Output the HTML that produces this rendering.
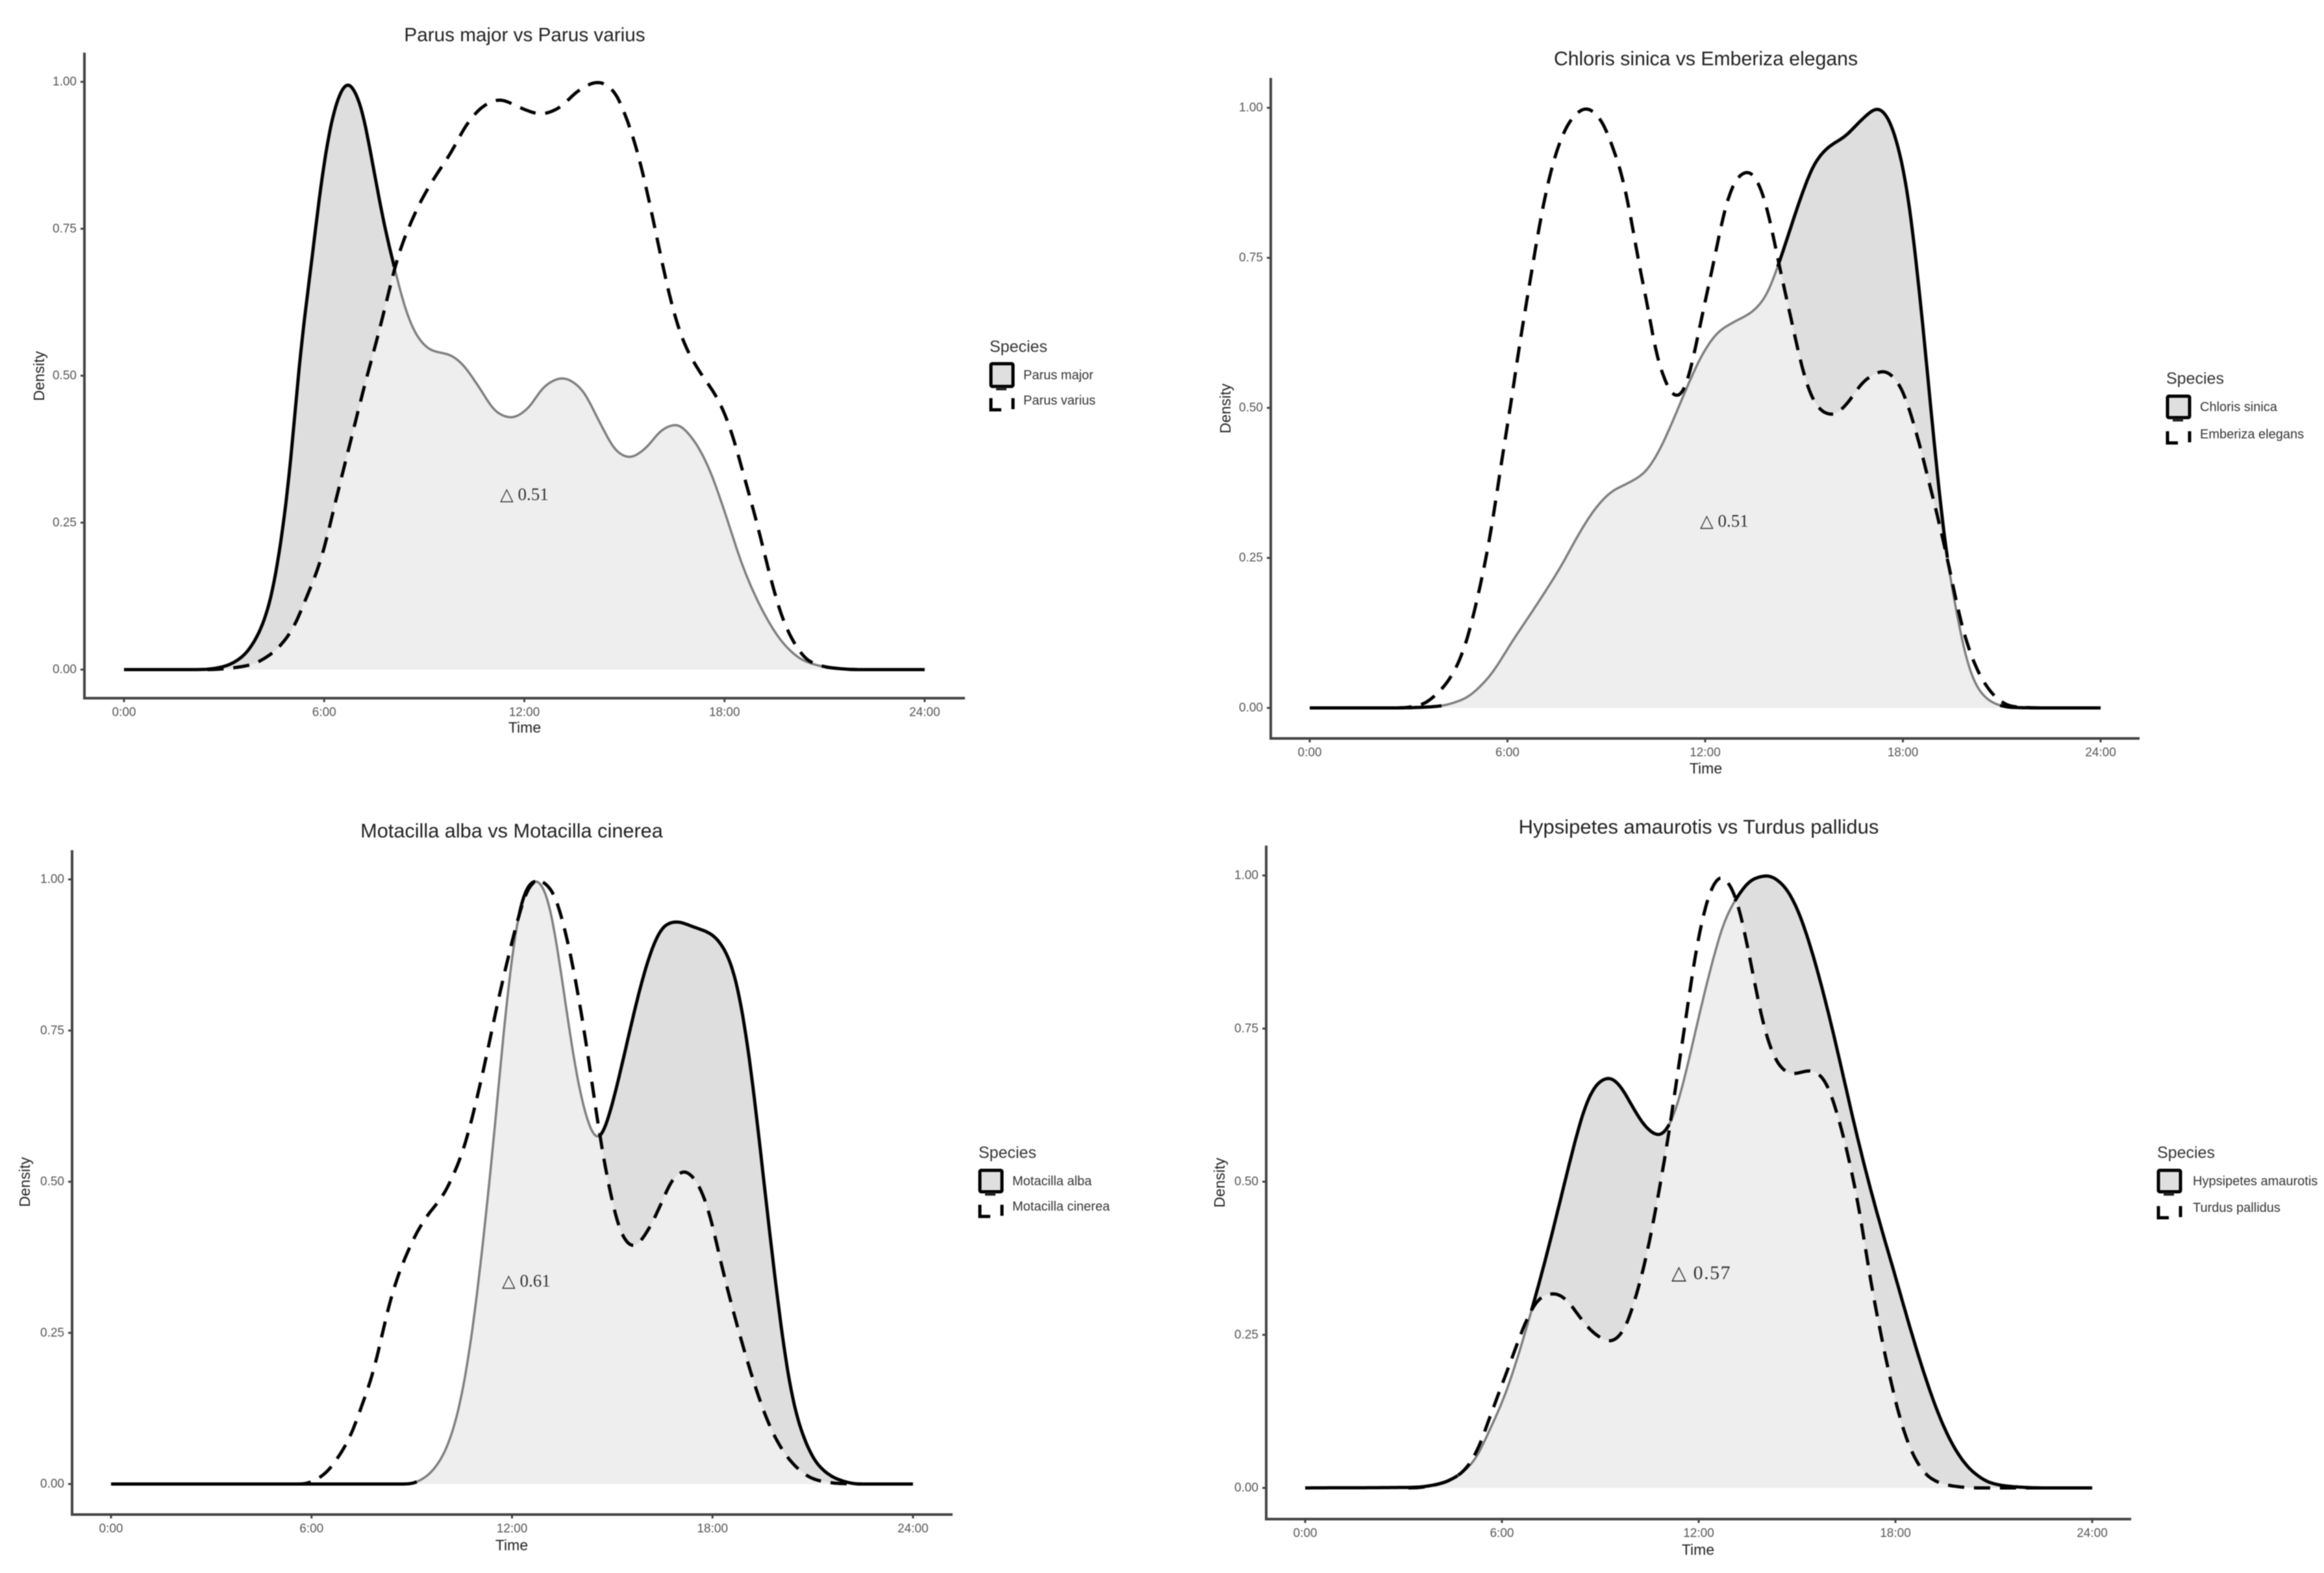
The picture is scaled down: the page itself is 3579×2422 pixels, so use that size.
<!DOCTYPE html>
<html lang="en">
<head>
<meta charset="utf-8">
<title>Species activity overlap density plots</title>
<style>
html,body{margin:0;padding:0;background:#fff;}
body{width:3579px;height:2422px;overflow:hidden;}
svg{display:block;filter:blur(0.9px);font-family:"Liberation Sans",Arial,sans-serif;}
.title{fill:#222;text-anchor:middle;dominant-baseline:central;}
.axt{font-size:23px;fill:#222;text-anchor:middle;dominant-baseline:central;}
.tick{font-size:19px;fill:#555;dominant-baseline:central;}
.lgt{font-size:25px;fill:#333;dominant-baseline:central;}
.lgl{font-size:20px;fill:#333;dominant-baseline:central;}
.delta{font-family:"Liberation Serif","DejaVu Serif",serif;font-size:27px;fill:#333;dominant-baseline:central;}
</style>
</head>
<body>
<svg id="figure" width="3579" height="2422" viewBox="0 0 3579 2422" xmlns="http://www.w3.org/2000/svg">
  <rect x="0" y="0" width="3579" height="2422" fill="#fff"/>

  <g id="panel-1">
    <g id="marks-1"></g>
    <text class="title" style="font-size:29.7px" x="808" y="54">Parus major vs Parus varius</text>
    <text class="axt" x="808" y="1120">Time</text>
    <text class="axt" transform="translate(60 579) rotate(-90)">Density</text>
    <text class="delta" x="770" y="761">△ 0.51</text>
    <text class="lgt" x="1524" y="534">Species</text>
    <g>
      <rect x="1526" y="560" width="34" height="35" rx="2" fill="#dfdfdf" stroke="#000" stroke-width="5"/>
      <rect x="1534" y="596" width="16" height="5" fill="#222"/>
    </g>
    <path d="M1526 613V631H1542M1560 613V630" fill="none" stroke="#000" stroke-width="5"/>
    <text class="lgl" x="1576" y="578">Parus major</text>
    <text class="lgl" x="1576" y="617">Parus varius</text>
  </g>

  <g id="panel-2">
    <g id="marks-2"></g>
    <text class="title" style="font-size:30.2px" x="2627" y="91">Chloris sinica vs Emberiza elegans</text>
    <text class="axt" x="2627" y="1183">Time</text>
    <text class="axt" transform="translate(1887 629) rotate(-90)">Density</text>
    <text class="delta" x="2618" y="802">△ 0.51</text>
    <text class="lgt" x="3336" y="583">Species</text>
    <g>
      <rect x="3338" y="610" width="34" height="33" rx="2" fill="#dfdfdf" stroke="#000" stroke-width="5"/>
      <rect x="3346" y="644" width="16" height="5" fill="#222"/>
    </g>
    <path d="M3338 664V682H3354M3372 664V681" fill="none" stroke="#000" stroke-width="5"/>
    <text class="lgl" x="3388" y="627">Chloris sinica</text>
    <text class="lgl" x="3388" y="669">Emberiza elegans</text>
  </g>

  <g id="panel-3">
    <g id="marks-3"></g>
    <text class="title" style="font-size:30.7px" x="788" y="1279">Motacilla alba vs Motacilla cinerea</text>
    <text class="axt" x="788" y="2379">Time</text>
    <text class="axt" transform="translate(38 1820) rotate(-90)">Density</text>
    <text class="delta" x="773" y="1972">△ 0.61</text>
    <text class="lgt" x="1507" y="1775">Species</text>
    <g>
      <rect x="1509" y="1802" width="34" height="33" rx="2" fill="#dfdfdf" stroke="#000" stroke-width="5"/>
      <rect x="1517" y="1836" width="16" height="5" fill="#222"/>
    </g>
    <path d="M1509 1855V1873H1525M1543 1855V1872" fill="none" stroke="#000" stroke-width="5"/>
    <text class="lgl" x="1559" y="1819">Motacilla alba</text>
    <text class="lgl" x="1559" y="1858">Motacilla cinerea</text>
  </g>

  <g id="panel-4">
    <g id="marks-4"></g>
    <text class="title" style="font-size:31px" x="2616" y="1273">Hypsipetes amaurotis vs Turdus pallidus</text>
    <text class="axt" x="2615" y="2386">Time</text>
    <text class="axt" transform="translate(1878 1821) rotate(-90)">Density</text>
    <text class="delta" x="2574" y="1960" style="font-size:30px;letter-spacing:1.5px">△ 0.57</text>
    <text class="lgt" x="3322" y="1775">Species</text>
    <g>
      <rect x="3324" y="1802" width="34" height="33" rx="2" fill="#dfdfdf" stroke="#000" stroke-width="5"/>
      <rect x="3332" y="1836" width="16" height="5" fill="#222"/>
    </g>
    <path d="M3324 1857V1875H3340M3358 1857V1874" fill="none" stroke="#000" stroke-width="5"/>
    <text class="lgl" x="3377" y="1819">Hypsipetes amaurotis</text>
    <text class="lgl" x="3377" y="1860">Turdus pallidus</text>
  </g>
</svg>

<script>
// ---- tick labels ----
var xTickHours = [0, 6, 12, 18, 24];
var xTickLabels = ["0:00", "6:00", "12:00", "18:00", "24:00"];
var yTickValues = [0, 0.25, 0.5, 0.75, 1];
var yTickLabels = ["0.00", "0.25", "0.50", "0.75", "1.00"];

// ---- Parus major vs Parus varius ----
var parusMajorHours = [0,2.3,2.947,3.537,4.009,4.363,4.657,5.011,5.247,5.625,5.99,6.344,6.698,7.075,7.429,7.783,8.136,8.431,8.785,9.198,9.787,10.141,10.613,11.203,11.615,12.087,12.618,13.149,13.679,14.269,14.8,15.153,15.625,16.156,16.569,17.005,17.512,17.984,18.573,19.222,19.812,20.4,21.2,22,24];
var parusMajorDensity = [0,0,0.0044,0.0211,0.0579,0.1115,0.1985,0.3592,0.5199,0.6939,0.8613,0.9617,1,0.9651,0.868,0.7609,0.6772,0.6136,0.5668,0.5433,0.5353,0.5199,0.4831,0.4362,0.4282,0.4429,0.4831,0.4965,0.4797,0.4195,0.3693,0.3605,0.3759,0.4094,0.4174,0.396,0.3458,0.2722,0.1717,0.0914,0.0412,0.0144,0.003,0,0];
var parusVariusHours = [0,2.6,3.1,3.773,4.363,5.011,5.483,5.896,6.367,6.839,7.193,7.606,7.9,8.195,8.549,8.903,9.316,9.787,10.318,10.849,11.262,11.91,12.5,13.03,13.62,14.21,14.68,15.04,15.39,15.74,16.1,16.45,16.8,17.22,17.81,18.16,18.57,18.99,19.34,19.75,20.17,20.52,21.2,22,24];
var parusVariusDensity = [0,0,0.002,0.0077,0.0245,0.0646,0.1249,0.1851,0.2923,0.3994,0.4797,0.5668,0.6337,0.7006,0.7542,0.7977,0.8379,0.8781,0.9316,0.9617,0.9698,0.9551,0.945,0.9551,0.9852,1,0.9852,0.9417,0.8814,0.7977,0.7006,0.6136,0.5534,0.5098,0.4596,0.4128,0.3324,0.2454,0.165,0.0847,0.0378,0.0144,0.003,0,0];

// ---- Chloris sinica vs Emberiza elegans ----
var chlorisHours = [0,2.62,3.815,4.651,5.367,6.203,7.038,7.635,8.232,8.71,9.188,9.665,10.143,10.56,10.978,11.456,11.934,12.411,12.889,13.426,13.843,14.202,14.56,14.918,15.336,15.754,16.232,16.769,17.246,17.545,17.843,18.142,18.38,18.619,18.858,19.097,19.336,19.634,19.933,20.291,20.769,21.246,22.2,24];
var chlorisDensity = [0,0,0.0023,0.0141,0.0469,0.1157,0.1846,0.237,0.296,0.3354,0.3616,0.3747,0.3911,0.4239,0.4731,0.5354,0.5911,0.6272,0.6436,0.6599,0.6862,0.7353,0.7944,0.8534,0.9091,0.9353,0.9517,0.9812,1,0.9845,0.9386,0.8599,0.755,0.6304,0.4927,0.3616,0.2501,0.1583,0.0796,0.0305,0.0075,0.001,0,0];
var embarizaHours = [0,2.7,3.337,3.934,4.412,4.77,5.068,5.307,5.546,5.725,5.904,6.143,6.322,6.501,6.74,6.979,7.277,7.576,7.934,8.387,8.829,9.187,9.486,9.665,9.844,10.023,10.262,10.501,10.74,10.978,11.217,11.456,11.695,11.993,12.232,12.471,12.71,13.008,13.33,13.665,13.963,14.202,14.44,14.679,14.918,15.217,15.575,15.873,16.291,16.828,17.425,17.903,18.261,18.5,18.798,19.097,19.395,19.694,19.992,20.41,20.888,21.306,22.2,24];
var embarizaDensity = [0,0,0.0042,0.0272,0.0633,0.1124,0.178,0.237,0.3092,0.3747,0.4403,0.519,0.5911,0.6501,0.7288,0.8075,0.8862,0.9419,0.9812,1,0.9812,0.9353,0.8862,0.8403,0.7878,0.7288,0.6698,0.5911,0.5517,0.5222,0.5177,0.5419,0.5977,0.6763,0.7353,0.8009,0.8534,0.8862,0.8947,0.8698,0.814,0.7485,0.6895,0.6304,0.5714,0.519,0.4927,0.4881,0.5059,0.5452,0.5616,0.5386,0.4862,0.4403,0.3747,0.3092,0.237,0.1583,0.0993,0.0469,0.0141,0.0023,0,0];

// ---- Motacilla alba vs Motacilla cinerea ----
var albaHours = [0,8.925,9.396,9.867,10.22,10.514,10.75,10.926,11.103,11.28,11.515,11.751,11.986,12.222,12.516,12.751,13.046,13.34,13.635,13.929,14.223,14.459,14.6,14.871,15.224,15.578,15.931,16.284,16.578,16.932,17.403,17.991,18.345,18.639,18.933,19.169,19.404,19.64,19.875,20.111,20.405,20.758,21.171,21.76,22.35,24];
var albaDensity = [0,0,0.0107,0.04,0.0856,0.1506,0.2287,0.3003,0.3849,0.476,0.6062,0.7493,0.8665,0.9511,0.9934,1,0.9739,0.8925,0.7819,0.6778,0.6062,0.5736,0.5684,0.6029,0.6778,0.7624,0.8405,0.899,0.9251,0.9303,0.9218,0.9088,0.886,0.847,0.7689,0.6778,0.5671,0.45,0.3393,0.2352,0.1376,0.0726,0.0303,0.0075,0,0];
var cinereaHours = [0,5.745,6.334,6.864,7.217,7.512,7.806,8.041,8.277,8.512,8.807,9.101,9.454,9.925,10.279,10.573,10.926,11.221,11.515,11.809,12.163,12.457,12.751,13.222,13.517,13.811,14.106,14.341,14.577,14.753,14.989,15.283,15.636,16.048,16.461,16.814,17.167,17.579,17.932,18.227,18.521,18.874,19.228,19.64,20.052,20.523,21.053,21.76,22.5,24];
var cinereaDensity = [0,0,0.0139,0.0497,0.0856,0.1311,0.1766,0.2287,0.2873,0.3328,0.3751,0.4109,0.4435,0.476,0.515,0.5574,0.6322,0.7038,0.7819,0.8535,0.9316,0.9836,1,0.9804,0.9316,0.86,0.7689,0.6843,0.5936,0.5346,0.4695,0.4109,0.3914,0.4174,0.463,0.5053,0.5183,0.4955,0.4435,0.3719,0.3068,0.2352,0.1701,0.105,0.0595,0.0269,0.0075,0.001,0,0];

// ---- Hypsipetes amaurotis vs Turdus pallidus ----
var hypsipetesHours = [0,3.33,4.12,4.752,5.172,5.592,6.072,6.552,6.972,7.392,7.812,8.231,8.591,8.951,9.287,9.611,10.031,10.451,10.811,11.111,11.411,11.711,12.071,12.431,12.791,13.211,13.631,14.11,14.59,15.01,15.37,15.73,16.09,16.45,16.81,17.17,17.53,17.95,18.43,18.91,19.39,19.87,20.35,20.95,21.55,22.5,24];
var hypsipetesDensity = [0,0.001,0.007,0.0234,0.0459,0.0908,0.1487,0.2257,0.3029,0.3864,0.4764,0.5663,0.6306,0.6627,0.6704,0.6562,0.6177,0.5855,0.5746,0.592,0.637,0.7012,0.7847,0.8618,0.9261,0.9678,0.9936,1,0.9839,0.9454,0.8907,0.8233,0.7462,0.6627,0.5791,0.502,0.4313,0.3543,0.2643,0.1808,0.1101,0.0587,0.0266,0.0073,0.0022,0,0];
var pallidusHours = [0,3.3,4.12,4.752,5.232,5.592,5.952,6.312,6.672,7.032,7.332,7.632,7.991,8.351,8.831,9.311,9.731,10.031,10.331,10.631,10.871,11.111,11.351,11.591,11.831,12.071,12.371,12.671,12.971,13.211,13.451,13.691,13.931,14.171,14.47,14.83,15.43,15.85,16.15,16.45,16.75,16.99,17.23,17.53,17.83,18.19,18.55,19.03,19.63,20.47,24];
var pallidusDensity = [0,0,0.007,0.0234,0.0587,0.1101,0.1615,0.2129,0.2643,0.3029,0.3157,0.3176,0.3061,0.2804,0.2515,0.2386,0.2579,0.3029,0.3607,0.4378,0.5085,0.5855,0.6755,0.759,0.849,0.9197,0.9775,1,0.9839,0.9518,0.894,0.8297,0.7654,0.7205,0.6883,0.6755,0.6819,0.6659,0.6241,0.5663,0.4956,0.4249,0.3414,0.2579,0.1808,0.1037,0.0523,0.017,0.0041,0,0];

var SVGNS = "http://www.w3.org/2000/svg";

// plot frames (layout only)
var panels = [
  {key:"parus", mount:"marks-1", frame:{x0:191,x24:1424,y0:1031,y1:126,left:130,bottom:1075,right:1486,top:81},
   solidH:parusMajorHours, solidD:parusMajorDensity, dashH:parusVariusHours, dashD:parusVariusDensity},
  {key:"chloris", mount:"marks-2", frame:{x0:2017,x24:3235,y0:1090,y1:166,left:1957,bottom:1137,right:3295,top:120},
   solidH:chlorisHours, solidD:chlorisDensity, dashH:embarizaHours, dashD:embarizaDensity},
  {key:"motacilla", mount:"marks-3", frame:{x0:171,x24:1406,y0:2285,y1:1354,left:111,bottom:2332,right:1467,top:1309},
   solidH:albaHours, solidD:albaDensity, dashH:cinereaHours, dashD:cinereaDensity},
  {key:"hypsipetes", mount:"marks-4", frame:{x0:2010,x24:3222,y0:2291,y1:1348,left:1950,bottom:2339,right:3282,top:1302},
   solidH:hypsipetesHours, solidD:hypsipetesDensity, dashH:pallidusHours, dashD:pallidusDensity}
];

function xAxis(frame, hour){ return frame.x0 + (frame.x24 - frame.x0) * hour / 24; }
function yAxis(frame, density){ return frame.y0 + (frame.y1 - frame.y0) * density; }

// shape-preserving cubic curve through the read points
function makeCurve(xs, ys){
  var n = xs.length, h = [], s = [], m = [], i;
  for(i = 0; i < n - 1; i++){ h[i] = xs[i+1] - xs[i]; s[i] = (ys[i+1] - ys[i]) / h[i]; }
  m[0] = s[0]; m[n-1] = s[n-2];
  for(i = 1; i < n - 1; i++){
    if(s[i-1] * s[i] <= 0){ m[i] = 0; }
    else {
      var w1 = 2*h[i] + h[i-1], w2 = h[i] + 2*h[i-1];
      m[i] = (w1 + w2) / (w1 / s[i-1] + w2 / s[i]);
    }
  }
  return function(x){
    var k = 0;
    while(k < n - 2 && x > xs[k+1]){ k++; }
    var t = (x - xs[k]) / h[k], t2 = t*t, t3 = t2*t;
    return (2*t3 - 3*t2 + 1)*ys[k] + (t3 - 2*t2 + t)*h[k]*m[k] + (-2*t3 + 3*t2)*ys[k+1] + (t3 - t2)*h[k]*m[k+1];
  };
}

// light visual smoothing of the sampled curve so reading jitter leaves no kinks
function soften(values, radius, sigma){
  var out = [], kernel = [], i, j, sum = 0;
  for(j = -radius; j <= radius; j++){ kernel.push(Math.exp(-j*j/(2*sigma*sigma))); }
  kernel.forEach(function(w){ sum += w; });
  for(i = 0; i < values.length; i++){
    var v = 0;
    for(j = -radius; j <= radius; j++){
      var idx = Math.min(values.length - 1, Math.max(0, i + j));
      v += values[idx] * kernel[j + radius];
    }
    out.push(v / sum);
  }
  return out;
}

function make(tag, attrs, parent){
  var el = document.createElementNS(SVGNS, tag);
  for(var a in attrs){ el.setAttribute(a, attrs[a]); }
  parent.appendChild(el);
  return el;
}

function polyD(points){
  var d = "";
  for(var i = 0; i < points.length; i++){
    d += (i ? "L" : "M") + points[i][0].toFixed(1) + " " + points[i][1].toFixed(1);
  }
  return d;
}

panels.forEach(function(p){
  var g = document.getElementById(p.mount);
  var f = p.frame;
  var solid = makeCurve(p.solidH, p.solidD);
  var dash = makeCurve(p.dashH, p.dashD);
  var step = 0.05, i, rawS = [], rawD = [];
  for(i = 0; i <= 480; i++){
    rawS.push(Math.max(0, solid(i * step)));
    rawD.push(Math.max(0, dash(i * step)));
  }
  var softS = soften(rawS, 8, 2.6), softD = soften(rawD, 8, 2.6);
  var samples = [];
  for(i = 0; i <= 480; i++){
    samples.push({h:i * step, s:softS[i], d:softD[i]});
  }

  // filled species area
  var areaPts = samples.map(function(q){ return [xAxis(f, q.h), yAxis(f, q.s)]; });
  var area = make("path", {d: polyD(areaPts) + "Z", fill:"#dedede"}, g);
  
  

  // overlap area
  var overPts = samples.map(function(q){ return [xAxis(f, q.h), yAxis(f, Math.min(q.s, q.d))]; });
  var over = make("path", {d: polyD(overPts) + "Z", fill:"#eeeeee"}, g);
  
  

  // solid line: black where it bounds the species area, grey where under the dashed curve
  var runs = [], cur = null;
  samples.forEach(function(q){
    var grey = q.d > q.s && q.s > 0.004;
    var pt = [xAxis(f, q.h), yAxis(f, q.s)];
    if(!cur || cur.grey !== grey){
      var start = cur ? [cur.pts[cur.pts.length - 1]] : [];
      cur = {grey:grey, pts:start};
      runs.push(cur);
    }
    cur.pts.push(pt);
  });
  runs.forEach(function(r){
    var line = make("path", {d: polyD(r.pts), fill:"none", stroke: r.grey ? "#808080" : "#000000",
      "stroke-width": r.grey ? 3.6 : 5, "stroke-linejoin":"round"}, g);
    
    
  });

  // dashed line
  var dashPts = samples.map(function(q){ return [xAxis(f, q.h), yAxis(f, q.d)]; });
  var firstActive = 0;
  while(firstActive < samples.length - 1 && samples[firstActive].d < 0.0005){ firstActive++; }
  var dl = make("path", {d: polyD(dashPts.slice(Math.max(0, firstActive - 6))), fill:"none", stroke:"#000000",
    "stroke-width":5, "stroke-dasharray":"25 15"}, g);
  
  

  // axes
  var yLine = make("line", {x1:f.left, x2:f.left, y1:f.top, y2:f.bottom + 2, stroke:"#444", "stroke-width":4}, g);
  
  
  var xLine = make("line", {x1:f.left - 2, x2:f.right, y1:f.bottom, y2:f.bottom, stroke:"#444", "stroke-width":4}, g);
  
  

  xTickHours.forEach(function(hour, k){
    var tx = xAxis(f, hour);
    var tm = make("line", {x1:tx, x2:tx, y1:f.bottom, y2:f.bottom + 6, stroke:"#444", "stroke-width":3}, g);
    
    
    var tl = make("text", {"class":"tick", x:tx, y:f.bottom + 22, "text-anchor":"middle"}, g);
    
    
    tl.textContent = xTickLabels[k];
  });
  yTickValues.forEach(function(val, k){
    var ty = yAxis(f, val);
    var tm = make("line", {x1:f.left - 6, x2:f.left, y1:ty, y2:ty, stroke:"#444", "stroke-width":3}, g);
    
    
    var tl = make("text", {"class":"tick", x:f.left - 12, y:ty, "text-anchor":"end"}, g);
    
    
    tl.textContent = yTickLabels[k];
  });
});
</script>
</body>
</html>
